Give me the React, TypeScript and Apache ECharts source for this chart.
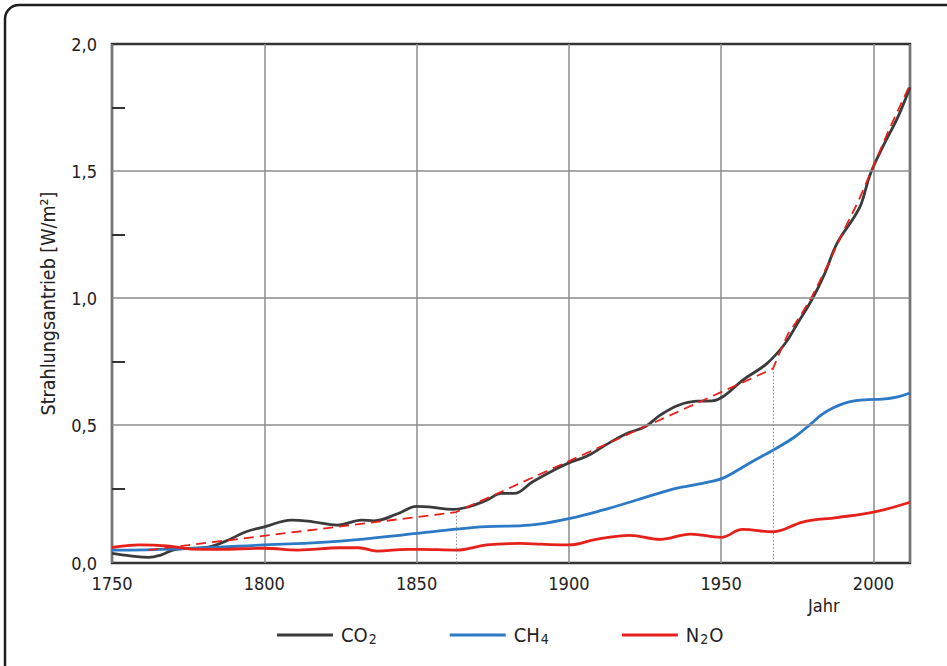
import React, { useEffect, useRef } from "react";
import * as echarts from "echarts";

const FONT = "'Liberation Sans Narrow', 'DejaVu Sans Condensed', 'Liberation Sans', sans-serif";

const co2Years = [1750, 1756, 1762, 1766, 1771, 1781, 1787, 1794, 1800, 1809, 1816, 1824, 1832, 1836, 1844, 1850, 1854, 1862, 1867, 1873, 1878, 1882, 1888, 1895, 1900, 1906, 1912, 1919, 1925, 1930, 1936, 1942, 1947, 1951, 1957, 1965, 1971, 1975, 1980, 1984, 1988, 1994, 1996, 1999, 2003, 2008, 2012];
const co2Values = [-0.005, -0.015, -0.021, -0.012, 0.011, 0.018, 0.041, 0.08, 0.099, 0.126, 0.119, 0.106, 0.126, 0.123, 0.152, 0.18, 0.178, 0.168, 0.178, 0.204, 0.231, 0.231, 0.276, 0.322, 0.351, 0.378, 0.421, 0.467, 0.493, 0.539, 0.578, 0.594, 0.595, 0.615, 0.676, 0.742, 0.821, 0.899, 0.998, 1.096, 1.214, 1.325, 1.371, 1.489, 1.594, 1.712, 1.83];

const ch4Years = [1750, 1770, 1800, 1825, 1851, 1862, 1873, 1887, 1900, 1911, 1922, 1933, 1939, 1946, 1951, 1959, 1968, 1974, 1979, 1983, 1987, 1992, 1998, 2003, 2008, 2012];
const ch4Values = [0.008, 0.012, 0.028, 0.043, 0.075, 0.089, 0.1, 0.106, 0.132, 0.165, 0.204, 0.244, 0.26, 0.276, 0.293, 0.348, 0.408, 0.452, 0.5, 0.541, 0.569, 0.591, 0.6, 0.602, 0.611, 0.626];

const n2oYears = [1750, 1759, 1768, 1776, 1785, 1800, 1811, 1825, 1831, 1837, 1847, 1851, 1863, 1873, 1884, 1891, 1900, 1909, 1920, 1930, 1940, 1950, 1957, 1967, 1977, 1988, 2000, 2012];
const n2oValues = [0.018, 0.028, 0.024, 0.012, 0.011, 0.015, 0.008, 0.017, 0.017, 0.004, 0.011, 0.011, 0.008, 0.028, 0.034, 0.031, 0.028, 0.05, 0.066, 0.05, 0.071, 0.058, 0.089, 0.08, 0.119, 0.136, 0.157, 0.196];

const fitYears = [1762, 1863, 1967, 1970, 1972, 1976, 1980, 1985, 1990, 1995, 2000, 2005, 2012];
const fitValues = [0.008, 0.157, 0.722, 0.807, 0.86, 0.93, 1.01, 1.13, 1.26, 1.38, 1.52, 1.66, 1.84];

const breakYears = [1863, 1967];
const breakValues = [0.157, 0.722];

const xTickYears = [1750, 1800, 1850, 1900, 1950, 2000];
const yMin = -0.043;
const yMax = 2.0;
const yLabelValues = [yMin, 0.5, 1.0, 1.5, 2.0];
const yMinorTicks = [0.25, 0.75, 1.25, 1.75];
const yGridValues = [0.5, 1.0, 1.5];

const seriesNames = ["CO2", "CH4", "N2O"];
const seriesColors = ["#3b3b3b", "#2c79c6", "#e6211c"];

const pairs = (xs: number[], ys: number[]) => xs.map((x, i) => [x, ys[i]]);

export default function App() {
  const ref = useRef<HTMLDivElement>(null);
  useEffect(() => {
    if (!ref.current) return;
    const chart = echarts.init(ref.current, null, { renderer: "svg" });
    const legendText: Record<string, string> = {
      CO2: "{b|CO}{s|2}",
      CH4: "{b|CH}{s|4}",
      N2O: "{b|N}{s|2}{b|O}",
    };
    chart.setOption({
      animation: false,
      backgroundColor: "#ffffff",
      textStyle: { fontFamily: FONT },
      grid: {
        left: 112,
        right: 37,
        top: 44,
        bottom: 103,
        show: true,
        borderColor: "#333333",
        borderWidth: 2.5,
        backgroundColor: "transparent",
      },
      xAxis: {
        type: "value",
        min: 1750,
        max: 2012,
        interval: 50,
        axisLine: { show: false },
        axisTick: { show: false },
        splitLine: { show: true, lineStyle: { color: "#8c8c8c", width: 1.5 } },
        axisLabel: {
          showMaxLabel: false,
          margin: 11,
          fontSize: 18,
          color: "#222222",
          fontFamily: FONT,
          formatter: (v: number) => (xTickYears.includes(v) ? String(v) : ""),
        },
      },
      yAxis: {
        type: "value",
        min: yMin,
        max: yMax,
        axisLine: { show: false },
        splitLine: { show: false },
        axisTick: {
          show: true,
          inside: true,
          length: 13,
          customValues: yMinorTicks,
          lineStyle: { color: "#333333", width: 2 },
        },
        axisLabel: {
          customValues: yLabelValues,
          margin: 15,
          fontSize: 18,
          color: "#222222",
          fontFamily: FONT,
          formatter: (v: number) => (v < 0 ? "0,0" : v.toFixed(1).replace(".", ",")),
        },
        name: "Strahlungsantrieb [W/m²]",
        nameLocation: "middle",
        nameGap: 54,
        nameTextStyle: { fontSize: 19.5, color: "#222222", fontFamily: FONT },
      },
      legend: {
        data: seriesNames,
        left: 272,
        top: 620,
        icon: "rect",
        itemWidth: 56,
        itemHeight: 3,
        itemGap: 72,
        formatter: (name: string) => legendText[name],
        textStyle: {
          padding: [0, 0, 0, 3],
          rich: {
            b: { fontSize: 20, color: "#222222", fontFamily: FONT, lineHeight: 22 },
            s: { fontSize: 14, color: "#222222", fontFamily: FONT, verticalAlign: "bottom", lineHeight: 13, padding: [0, 1, 0, 1] },
          },
        },
      },
      graphic: [
        {
          type: "rect",
          silent: true,
          z: 100,
          shape: { x: 5, y: 5, width: 1000, height: 1000, r: 14 },
          style: { fill: "none", stroke: "#1e1e1e", lineWidth: 2.5 },
        },
        {
          type: "text",
          silent: true,
          left: 808,
          top: 596,
          style: { text: "Jahr", fontSize: 18, fill: "#222222", fontFamily: FONT },
        },
      ],
      series: [
        {
          name: "grid",
          type: "line",
          data: [],
          silent: true,
          z: 1,
          markLine: {
            silent: true,
            symbol: ["none", "none"],
            label: { show: false },
            lineStyle: { color: "#8c8c8c", width: 1.5, type: "solid" },
            data: yGridValues.map((v) => ({ yAxis: v })),
          },
        },
        {
          name: "fit",
          type: "line",
          data: pairs(fitYears, fitValues),
          showSymbol: false,
          symbol: "none",
          smooth: false,
          z: 4,
          lineStyle: { color: "#e6211c", width: 1.8, type: [10, 6] },
          markLine: {
            silent: true,
            symbol: ["none", "none"],
            label: { show: false },
            lineStyle: { color: "#8a8a8a", width: 1, type: [1.5, 2] },
            data: breakYears.map((y, i) => [
              { coord: [y, breakValues[i]] },
              { coord: [y, yMin] },
            ]),
          },
        },
        ...seriesNames.map((name, i) => ({
          name,
          type: "line",
          data: pairs([co2Years, ch4Years, n2oYears][i], [co2Values, ch4Values, n2oValues][i]),
          showSymbol: false,
          symbol: "none",
          smooth: 0.4,
          z: 3,
          itemStyle: { color: seriesColors[i] },
          lineStyle: { color: seriesColors[i], width: 2.8 },
        })),
      ],
    });
    return () => chart.dispose();
  }, []);
  return (
    <div
      ref={ref}
      style={{ position: "fixed", left: 0, top: 0, width: 947, height: 666, background: "#fff" }}
    />
  );
}
